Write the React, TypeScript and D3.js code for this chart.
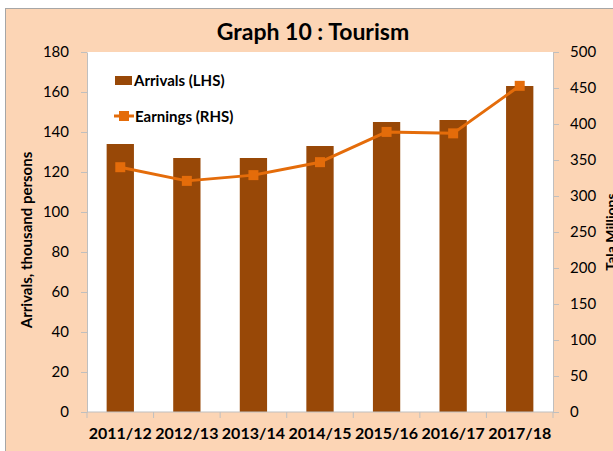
import { useRef, useEffect } from 'react'
import * as d3 from 'd3'

const years = ['2011/12', '2012/13', '2013/14', '2014/15', '2015/16', '2016/17', '2017/18']
const arrivals = [134, 127, 127, 133, 145, 146, 163]
const earnings = [340, 321, 329, 347, 389, 387, 453]
const leftTicks = [0, 20, 40, 60, 80, 100, 120, 140, 160, 180]
const rightTicks = [0, 50, 100, 150, 200, 250, 300, 350, 400, 450, 500]

const W = 613
const H = 451
const FONT = 'Lato, "Open Sans", sans-serif'

export default function App() {
  const svgRef = useRef<SVGSVGElement>(null)

  useEffect(() => {
    if (!svgRef.current) return
    const svg = d3.select(svgRef.current)
    svg.selectAll('*').remove()

    const margin = { top: 52, right: 60, bottom: 39, left: 87 }
    const innerW = W - margin.left - margin.right
    const innerH = H - margin.top - margin.bottom

    // Outer frame (cut off at right and bottom, as in the source)
    svg.append('rect')
      .attr('x', 5.5).attr('y', 8.5)
      .attr('width', 640).attr('height', 480)
      .attr('fill', '#fcd5b5')
      .attr('stroke', '#a6a6a6')
      .attr('stroke-width', 1)

    svg.append('text')
      .attr('x', 313).attr('y', 40)
      .attr('text-anchor', 'middle')
      .attr('font-family', FONT).attr('font-weight', 'bold').attr('font-size', 23)
      .attr('fill', '#000')
      .text('Graph 10 : Tourism')

    const g = svg.append('g').attr('transform', `translate(${margin.left},${margin.top})`)

    g.append('rect').attr('width', innerW).attr('height', innerH).attr('fill', '#fff')

    const x = d3.scaleBand().domain(years).range([0, innerW]).paddingInner(0.59).paddingOuter(0.295)
    const yL = d3.scaleLinear().domain([0, 180]).range([innerH, 0])
    const yR = d3.scaleLinear().domain([0, 500]).range([innerH, 0])
    const xEdges = d3.scaleLinear().domain([0, years.length]).range([0, innerW])

    // Bars
    g.selectAll('.bar')
      .data(years)
      .join('rect')
      .attr('class', 'bar')
      .attr('x', (d) => x(d)!)
      .attr('width', x.bandwidth())
      .attr('y', (_, i) => yL(arrivals[i]))
      .attr('height', (_, i) => innerH - yL(arrivals[i]))
      .attr('fill', '#984807')

    // Earnings line
    const cx = (i: number) => x(years[i])! + x.bandwidth() / 2
    const line = d3.line<number>().x((_, i) => cx(i)).y((d) => yR(d))
    g.append('path')
      .datum(earnings)
      .attr('d', line)
      .attr('fill', 'none')
      .attr('stroke', '#e46c0a')
      .attr('stroke-width', 3)
      .attr('stroke-linejoin', 'round')

    g.selectAll('.mk')
      .data(earnings)
      .join('rect')
      .attr('class', 'mk')
      .attr('x', (_, i) => cx(i) - 5)
      .attr('y', (d) => yR(d) - 5)
      .attr('width', 10).attr('height', 10)
      .attr('fill', '#e46c0a')

    const axisColor = '#bfbfbf'
    const styleAxis = (sel: d3.Selection<SVGGElement, unknown, null, undefined>, weight: string, size: number) => {
      sel.select('.domain').attr('stroke', axisColor)
      sel.selectAll('.tick line').attr('stroke', axisColor)
      sel.selectAll('.tick text')
        .attr('fill', '#000')
        .attr('font-family', FONT)
        .attr('font-weight', weight)
        .attr('font-size', size)
    }

    g.append('g')
      .call(d3.axisLeft(yL).tickValues(leftTicks).tickSize(6).tickPadding(12).tickSizeOuter(0))
      .call((s) => styleAxis(s, 'normal', 15))

    g.append('g')
      .attr('transform', `translate(${innerW},0)`)
      .call(d3.axisRight(yR).tickValues(rightTicks).tickSize(6).tickPadding(11).tickSizeOuter(0))
      .call((s) => styleAxis(s, 'normal', 15))
      .call((s) => s.selectAll('.tick text').attr('text-anchor', 'start'))

    // Category axis with ticks at band edges
    const xAxisG = g.append('g').attr('transform', `translate(0,${innerH})`)
    xAxisG.append('line').attr('x1', 0).attr('x2', innerW).attr('stroke', axisColor)
    xAxisG.selectAll('.edge')
      .data(d3.range(years.length + 1))
      .join('line')
      .attr('class', 'edge')
      .attr('x1', (d) => xEdges(d)).attr('x2', (d) => xEdges(d))
      .attr('y1', 0).attr('y2', 6)
      .attr('stroke', axisColor)
    xAxisG.selectAll('.lbl')
      .data(years)
      .join('text')
      .attr('class', 'lbl')
      .attr('x', (d) => x(d)! + x.bandwidth() / 2)
      .attr('y', 27)
      .attr('text-anchor', 'middle')
      .attr('font-family', FONT).attr('font-weight', 'bold').attr('font-size', 16)
      .text((d) => d)

    // Axis titles
    svg.append('text')
      .attr('transform', `translate(32,240) rotate(-90)`)
      .attr('text-anchor', 'middle')
      .attr('font-family', FONT).attr('font-weight', 'bold').attr('font-size', 15)
      .text('Arrivals, thousand persons')

    svg.append('text')
      .attr('transform', `translate(616,${margin.top + innerH / 2}) rotate(-90)`)
      .attr('text-anchor', 'middle')
      .attr('font-family', FONT).attr('font-weight', 'bold').attr('font-size', 14)
      .text('Tala Millions')

    // Legend
    const lg = g.append('g')
    lg.append('rect').attr('x', 28).attr('y', 24).attr('width', 17).attr('height', 9).attr('fill', '#984807')
    lg.append('text')
      .attr('x', 47).attr('y', 34)
      .attr('font-family', FONT).attr('font-weight', 'bold').attr('font-size', 15)
      .text('Arrivals (LHS)')
    lg.append('line')
      .attr('x1', 27).attr('x2', 47).attr('y1', 64).attr('y2', 64)
      .attr('stroke', '#e46c0a').attr('stroke-width', 3)
    lg.append('rect').attr('x', 32).attr('y', 59).attr('width', 10).attr('height', 10).attr('fill', '#e46c0a')
    lg.append('text')
      .attr('x', 48).attr('y', 70)
      .attr('font-family', FONT).attr('font-weight', 'bold').attr('font-size', 15)
      .text('Earnings (RHS)')
  }, [])

  return (
    <svg
      ref={svgRef}
      width={W}
      height={H}
      style={{ position: 'absolute', left: 0, top: 0, display: 'block', background: '#fff' }}
    />
  )
}
